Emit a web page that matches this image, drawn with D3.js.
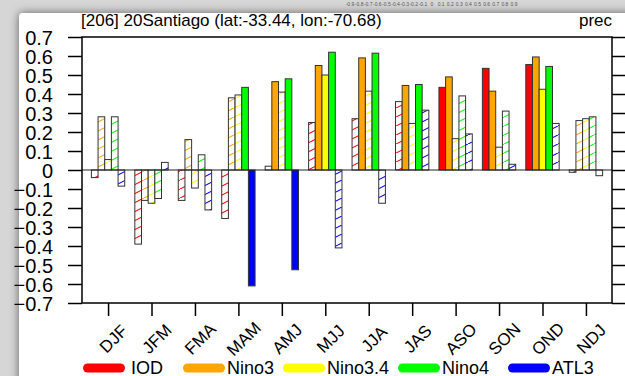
<!DOCTYPE html>
<html><head><meta charset="utf-8">
<script src="https://cdn.jsdelivr.net/npm/d3@7"></script>
<style>html,body{margin:0;padding:0;background:#fff;}svg{display:block;}</style>
</head><body>
<script>
const categories = ["DJF","JFM","FMA","MAM","AMJ","MJJ","JJA","JAS","ASO","SON","OND","NDJ"];
const seriesNames = ["IOD","Nino3","Nino3.4","Nino4","ATL3"];
const seriesColors = ["#ff0000","#ffa500","#ffff00","#00ff00","#0000ff"];
const iod    = [-0.04,-0.39,-0.16,-0.255,0.02,0.25,0.27,0.36,0.435,0.535,0.555,-0.012];
const nino3  = [0.28,-0.16,0.16,0.38,0.465,0.55,0.59,0.445,0.49,0.415,0.595,0.26];
const nino34 = [0.055,-0.175,-0.095,0.395,0.41,0.50,0.415,0.245,0.165,0.12,0.425,0.27];
const nino4  = [0.28,-0.15,0.08,0.435,0.48,0.62,0.615,0.45,0.39,0.31,0.545,0.28];
const atl3   = [-0.085,0.04,-0.21,-0.61,-0.525,-0.41,-0.175,0.315,0.19,0.03,0.245,-0.03];
const iodSig    = [0,0,0,0,0,0,0,0,1,1,1,0];
const nino3Sig  = [0,0,0,0,1,1,1,1,1,1,1,0];
const nino34Sig = [0,0,0,0,0,1,0,0,0,0,1,0];
const nino4Sig  = [0,0,0,1,1,1,1,1,0,0,1,0];
const atl3Sig   = [0,0,0,1,1,0,0,0,0,0,0,0];
const yTicks = [0.7,0.6,0.5,0.4,0.3,0.2,0.1,0,-0.1,-0.2,-0.3,-0.4,-0.5,-0.6,-0.7];
const topBarLabels = ["-0.9","-0.8","-0.7","-0.6","-0.5","-0.4","-0.3","-0.2","-0.1","0","0.1","0.2","0.3","0.4","0.5","0.6","0.7","0.8","0.9"];
const titleLeft = "[206] 20Santiago (lat:-33.44, lon:-70.68)";
const titleRight = "prec";

const values = [iod, nino3, nino34, nino4, atl3];
const sigs = [iodSig, nino3Sig, nino34Sig, nino4Sig, atl3Sig];

const W = 625, H = 376;
const L = 82, R = 612, T = 37, B = 303;
const svg = d3.select("body").append("svg").attr("width", W).attr("height", H);
const defs = svg.append("defs");
const f = defs.append("filter").attr("id","sh").attr("x","-10%").attr("y","-10%").attr("width","130%").attr("height","130%");
f.append("feDropShadow").attr("dx",0).attr("dy",0).attr("stdDeviation",5).attr("flood-color","#000").attr("flood-opacity",0.55);

seriesColors.forEach((c,i)=>{
  const p = defs.append("pattern").attr("id","hatch"+i).attr("patternUnits","userSpaceOnUse")
    .attr("width",18).attr("height",9);
  p.append("rect").attr("width",18).attr("height",9).attr("fill","#fff");
  p.append("line").attr("x1",0).attr("y1",9).attr("x2",18).attr("y2",0)
    .attr("stroke",c).attr("stroke-width",1.1);
});

// background and frame shadow
svg.append("rect").attr("width",W).attr("height",H).attr("fill","#d6d6d6");
svg.append("rect").attr("x",19).attr("y",13).attr("width",W+40).attr("height",H+40)
  .attr("rx",4).attr("fill","#fff").attr("filter","url(#sh)");

// tiny labels in top strip
const tb = d3.scaleLinear().domain([0, topBarLabels.length-1]).range([350, 514]);
svg.append("g").selectAll("text").data(topBarLabels).join("text")
  .attr("x",(d,i)=>tb(i)).attr("y",6).attr("text-anchor","middle")
  .attr("font-family","Liberation Sans, Arial, sans-serif").attr("font-size",5).attr("fill","#555")
  .text(d=>d);

const x = d3.scaleLinear().domain([-0.6, 11.6]).range([L, R]);
const y = d3.scaleLinear().domain([-0.7, 0.7]).range([B, T]);
const bw = (x(1)-x(0))*0.1535;

// bars
const g = svg.append("g");
values.forEach((vals, s) => {
  g.append("g").selectAll("rect").data(vals).join("rect")
    .attr("x",(d,i)=> x(i) + (s-2)*bw - bw/2)
    .attr("y",d=> y(Math.max(0,d)))
    .attr("width",bw)
    .attr("height",d=> Math.abs(y(d)-y(0)))
    .attr("fill",(d,i)=> sigs[s][i] ? seriesColors[s] : "url(#hatch"+s+")")
    .attr("stroke","#333").attr("stroke-width",1);
});

// zero line
svg.append("line").attr("x1",L).attr("x2",R).attr("y1",y(0)).attr("y2",y(0))
  .attr("stroke","#222").attr("stroke-width",1.2);

const font = "Liberation Sans, Arial, Helvetica, sans-serif";
// axes
const yl = svg.append("g").attr("transform",`translate(${L},0)`)
  .call(d3.axisLeft(y).tickValues(yTicks).tickSize(14).tickPadding(15).tickFormat(d=> d===0 ? "0" : d3.format(".1f")(d)));
const yr = svg.append("g").attr("transform",`translate(${R},0)`)
  .call(d3.axisRight(y).tickValues(yTicks).tickSize(14).tickFormat(""));
const xb = svg.append("g").attr("transform",`translate(0,${B})`)
  .call(d3.axisBottom(x).tickValues(d3.range(categories.length)).tickSize(13).tickFormat(i=>categories[i]));
[yl,yr,xb].forEach(a=>{
  a.select(".domain").remove();
  a.selectAll(".tick line").attr("stroke","#000").attr("stroke-width",1.5);
});
yl.selectAll(".tick text").attr("font-family",font).attr("font-size",20).attr("fill","#000").attr("dy","0.36em");
xb.selectAll(".tick text").attr("font-family",font).attr("font-size",17).attr("fill","#000")
  .attr("text-anchor","middle").attr("y",0).attr("dy",0)
  .attr("transform","translate(9,40) rotate(-45)");

svg.append("rect").attr("x",L).attr("y",T).attr("width",R-L).attr("height",B-T)
  .attr("fill","none").attr("stroke","#000").attr("stroke-width",1.5);

// titles
svg.append("text").attr("x",81).attr("y",26).attr("font-family",font).attr("font-size",17).text(titleLeft);
svg.append("text").attr("x",R).attr("y",26).attr("text-anchor","end").attr("font-family",font).attr("font-size",17).text(titleRight);

// legend
const legX = [83, 183, 283, 398, 508];
const leg = svg.append("g");
seriesNames.forEach((n,i)=>{
  leg.append("line").attr("x1",legX[i]+4.5).attr("x2",legX[i]+37.5).attr("y1",368).attr("y2",368)
    .attr("stroke",seriesColors[i]).attr("stroke-width",9).attr("stroke-linecap","round");
  leg.append("text").attr("x",legX[i]+ (i===0?48:44)).attr("y",374).attr("font-family",font).attr("font-size",18).text(n);
});
</script>
</body></html>
